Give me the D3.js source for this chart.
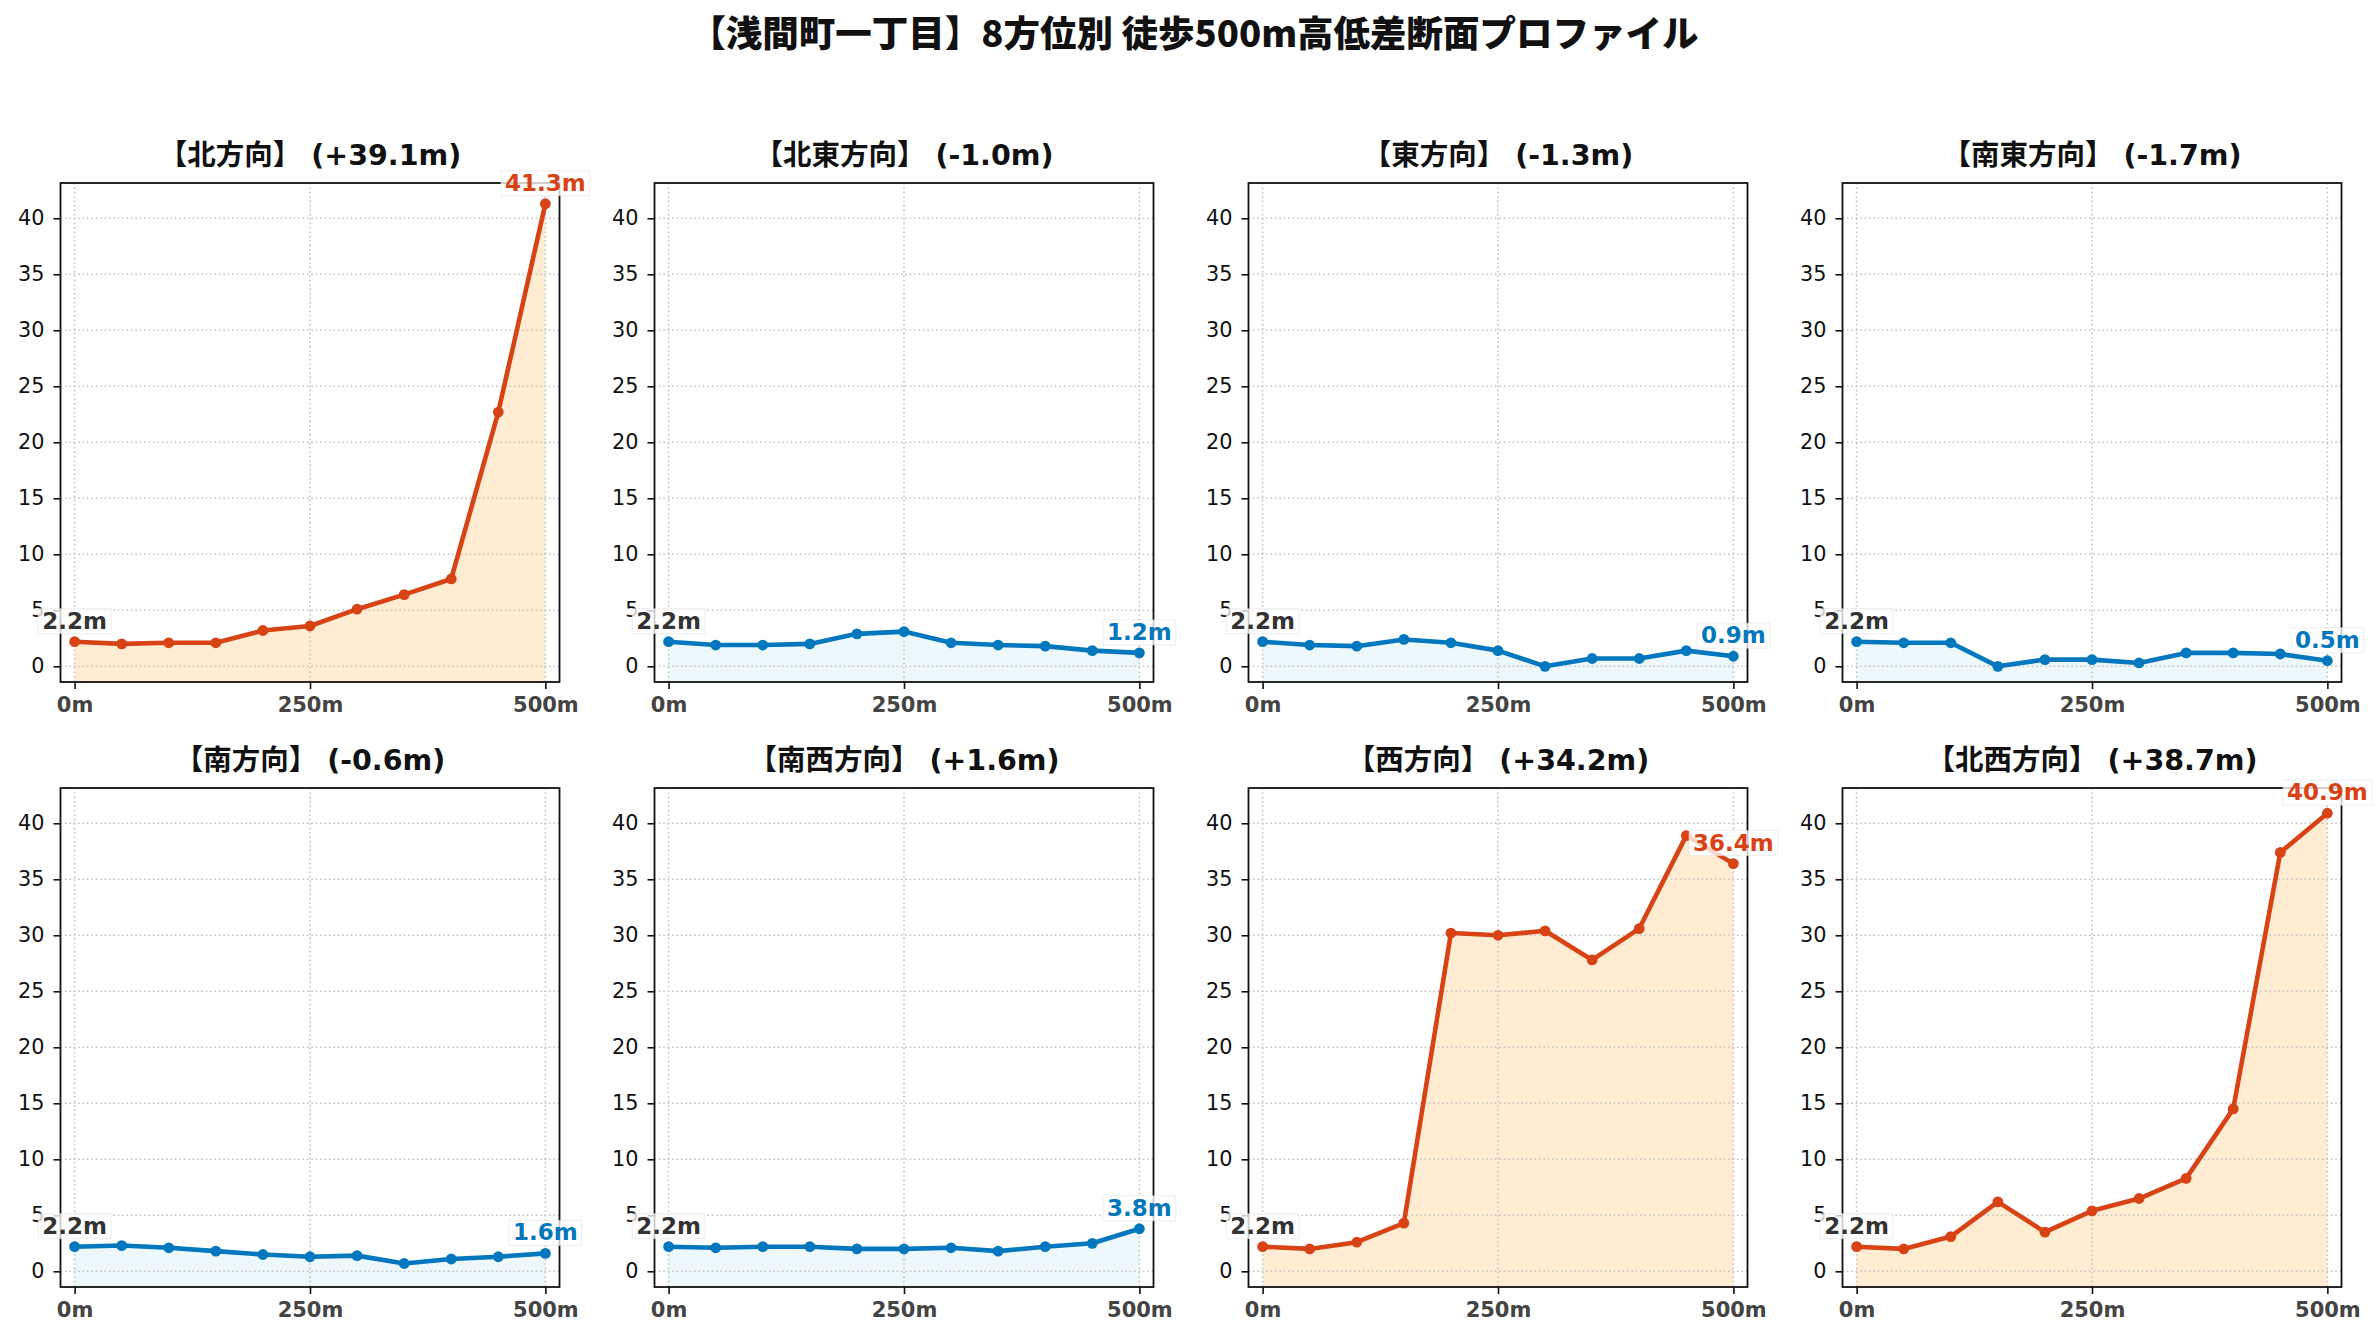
<!DOCTYPE html>
<html>
<head>
<meta charset="utf-8">
<script src="https://cdn.jsdelivr.net/npm/d3@7"></script>
<style>
	html, body { margin: 0; padding: 0; background: #fff; }
	svg { display: block; }
	text { font-family: "DejaVu Sans", "Noto Sans CJK JP", sans-serif; }
</style>
</head>
<body>
<svg id="chart" width="2380" height="1340"></svg>
<script>
"use strict";

// --- data ---
const chart_title = '【浅間町一丁目】8方位別 徒歩500m高低差断面プロファイル';
const directions = ['北', '北東', '東', '南東', '南', '南西', '西', '北西'];
const distances = [0, 50, 100, 150, 200, 250, 300, 350, 400, 450, 500];
const elev_n  = [2.2, 2.0, 2.1, 2.1, 3.2, 3.6, 5.1, 6.4, 7.8, 22.7, 41.3];
const elev_ne = [2.2, 1.9, 1.9, 2.0, 2.9, 3.1, 2.1, 1.9, 1.8, 1.4, 1.2];
const elev_e  = [2.2, 1.9, 1.8, 2.4, 2.1, 1.4, 0.0, 0.7, 0.7, 1.4, 0.9];
const elev_se = [2.2, 2.1, 2.1, 0.0, 0.6, 0.6, 0.3, 1.2, 1.2, 1.1, 0.5];
const elev_s  = [2.2, 2.3, 2.1, 1.8, 1.5, 1.3, 1.4, 0.7, 1.1, 1.3, 1.6];
const elev_sw = [2.2, 2.1, 2.2, 2.2, 2.0, 2.0, 2.1, 1.8, 2.2, 2.5, 3.8];
const elev_w  = [2.2, 2.0, 2.6, 4.3, 30.2, 30.0, 30.4, 27.8, 30.6, 38.9, 36.4];
const elev_nw = [2.2, 2.0, 3.1, 6.2, 3.5, 5.4, 6.5, 8.3, 14.5, 37.4, 40.9];
const profiles = [elev_n, elev_ne, elev_e, elev_se, elev_s, elev_sw, elev_w, elev_nw];
const y_ticks = [0, 5, 10, 15, 20, 25, 30, 35, 40];
const x_ticks = [0, 250, 500];

// --- layout / style ---
const col_x = [60.5, 654.5, 1248.5, 1842.5];
const row_y = [183, 788];
const pw = 499, ph = 499;
const col_up = '#d84315', col_up_fill = '#ffecd2';
const col_down = '#0277bd', col_down_fill = '#edf8fd';

const svg = d3.select('#chart');

svg.append('text')
	.attr('x', 1194).attr('y', 47)
	.attr('text-anchor', 'middle')
	.style('font-family', '"Noto Sans CJK JP", sans-serif')
	.style('font-size', '36.5px').style('font-weight', 900)
	.attr('fill', '#111')
	.text(chart_title);

const x = d3.scaleLinear().domain([-15, 515]).range([0, pw]);
const y = d3.scaleLinear().domain([-1.4, 43.15]).range([ph, 0]);

const add_label = (g, px, py, txt, color) => {
	const lg = g.append('g');
	const t = lg.append('text')
		.attr('x', px).attr('y', py - 13)
		.attr('text-anchor', 'middle')
		.style('font-size', '23px').style('font-weight', 700)
		.attr('fill', color)
		.text(txt);
	const bb = t.node().getBBox();
	lg.insert('rect', 'text')
		.attr('x', bb.x - 4).attr('y', bb.y + 1)
		.attr('width', bb.width + 8).attr('height', bb.height - 1)
		.attr('fill', '#fff').attr('fill-opacity', 0.78)
		.attr('stroke', '#ddd').attr('stroke-opacity', 0.5);
};

profiles.forEach((vals, i) => {
	const g = svg.append('g')
		.attr('transform', `translate(${col_x[i % 4]},${row_y[Math.floor(i / 4)]})`);
	const pts = distances.map((d, k) => ({ d, v: vals[k] }));
	const diff = Math.round((vals[vals.length - 1] - vals[0]) * 10) / 10;
	const up = diff > 5;
	const line_col = up ? col_up : col_down;

	// panel title
	g.append('text')
		.attr('x', pw / 2).attr('y', -18)
		.attr('text-anchor', 'middle')
		.style('font-size', '28.5px').style('font-weight', 700)
		.attr('fill', '#111')
		.text(`【${directions[i]}方向】 (${diff > 0 ? '+' : ''}${diff.toFixed(1)}m)`);

	// fill
	g.append('path')
		.datum(pts)
		.attr('fill', up ? col_up_fill : col_down_fill)
		.attr('d', d3.area().x((p) => x(p.d)).y0(ph).y1((p) => y(p.v)));

	// grid
	const grid = g.append('g').attr('stroke', '#c4c4c4').attr('stroke-width', 1.6)
		.attr('stroke-dasharray', '1.6,2.8');
	grid.selectAll('line.gy').data(y_ticks).enter().append('line')
		.attr('x1', 0).attr('x2', pw).attr('y1', (d) => y(d)).attr('y2', (d) => y(d));
	grid.selectAll('line.gx').data(x_ticks).enter().append('line')
		.attr('y1', 0).attr('y2', ph).attr('x1', (d) => x(d)).attr('x2', (d) => x(d));

	// axes
	const ya = g.append('g').call(d3.axisLeft(y).tickValues(y_ticks).tickSize(7).tickPadding(9));
	ya.select('.domain').remove();
	ya.selectAll('line').attr('stroke', '#111').attr('stroke-width', 1.6);
	ya.selectAll('text').style('font-size', '20.8px').attr('fill', '#111')
		.style('font-family', '"DejaVu Sans", sans-serif');
	const xa = g.append('g').attr('transform', `translate(0,${ph})`)
		.call(d3.axisBottom(x).tickValues(x_ticks).tickSize(7).tickPadding(8).tickFormat((d) => `${d}m`));
	xa.select('.domain').remove();
	xa.selectAll('line').attr('stroke', '#111').attr('stroke-width', 1.6);
	xa.selectAll('text').style('font-size', '21px').style('font-weight', 700).attr('fill', '#444')
		.style('font-family', '"DejaVu Sans", sans-serif');

	g.append('rect')
		.attr('width', pw).attr('height', ph)
		.attr('fill', 'none').attr('stroke', '#111').attr('stroke-width', 1.8);

	// line + markers
	g.append('path')
		.datum(pts)
		.attr('fill', 'none').attr('stroke', line_col).attr('stroke-width', 4.6)
		.attr('stroke-linejoin', 'round')
		.attr('d', d3.line().x((p) => x(p.d)).y((p) => y(p.v)));
	g.selectAll('circle.pt').data(pts).enter().append('circle')
		.attr('cx', (p) => x(p.d)).attr('cy', (p) => y(p.v)).attr('r', 5.4)
		.attr('fill', line_col);

	// start / end labels
	const first = pts[0], last = pts[pts.length - 1];
	add_label(g, x(first.d), y(first.v), `${first.v.toFixed(1)}m`, '#333');
	add_label(g, x(last.d), y(last.v), `${last.v.toFixed(1)}m`, line_col);
});
</script>
</body>
</html>
